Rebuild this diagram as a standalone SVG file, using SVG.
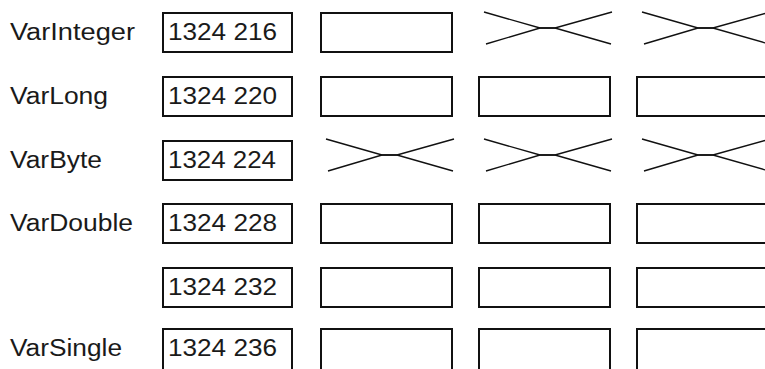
<svg xmlns="http://www.w3.org/2000/svg" xmlns:xlink="http://www.w3.org/1999/xlink" width="765" height="369" viewBox="0 0 765 369">
<style>
.box{fill:#fff;stroke:#111;stroke-width:2}
.x{fill:none;stroke:#111;stroke-width:1.4}
.lbl{font-family:"Liberation Sans",Arial,sans-serif;font-size:23.5px;fill:#1a1a1a}
</style>
<defs>
<g id="cross"><polyline class="x" points="0,0 56,16 71,16 128,0"/><polyline class="x" points="2,32 56,16 71,16 127,32"/></g>
</defs>
<rect width="765" height="369" fill="#fff"/>
<g id="row1">
<text class="lbl" x="10" y="40" textLength="125" lengthAdjust="spacingAndGlyphs">VarInteger</text>
<g id="addr1"><rect class="box" x="163" y="13" width="129" height="39"/><text class="lbl" x="168" y="40" textLength="109" lengthAdjust="spacingAndGlyphs">1324 216</text></g>
<rect class="box" x="321" y="13" width="131" height="39"/>
<use xlink:href="#cross" x="484" y="12"/>
<use xlink:href="#cross" x="642" y="12"/>
</g>
<g id="row2">
<text class="lbl" x="10" y="104" textLength="98" lengthAdjust="spacingAndGlyphs">VarLong</text>
<g id="addr2"><rect class="box" x="163" y="77" width="129" height="39"/><text class="lbl" x="168" y="104" textLength="109" lengthAdjust="spacingAndGlyphs">1324 220</text></g>
<rect class="box" x="321" y="77" width="131" height="39"/>
<rect class="box" x="479" y="77" width="131" height="39"/>
<rect class="box" x="637" y="77" width="160" height="39"/>
</g>
<g id="row3">
<text class="lbl" x="10" y="168" textLength="92" lengthAdjust="spacingAndGlyphs">VarByte</text>
<g id="addr3"><rect class="box" x="163" y="141" width="129" height="39"/><text class="lbl" x="168" y="168" textLength="108" lengthAdjust="spacingAndGlyphs">1324 224</text></g>
<use xlink:href="#cross" x="326" y="139"/>
<use xlink:href="#cross" x="484" y="139"/>
<use xlink:href="#cross" x="642" y="139"/>
</g>
<g id="row4">
<text class="lbl" x="10" y="231" textLength="123" lengthAdjust="spacingAndGlyphs">VarDouble</text>
<g id="addr4"><rect class="box" x="163" y="204" width="129" height="39"/><text class="lbl" x="168" y="231" textLength="109" lengthAdjust="spacingAndGlyphs">1324 228</text></g>
<rect class="box" x="321" y="204" width="131" height="39"/>
<rect class="box" x="479" y="204" width="131" height="39"/>
<rect class="box" x="637" y="204" width="160" height="39"/>
</g>
<g id="row5">
<g id="addr5"><rect class="box" x="163" y="268" width="129" height="39"/><text class="lbl" x="168" y="295" textLength="109" lengthAdjust="spacingAndGlyphs">1324 232</text></g>
<rect class="box" x="321" y="268" width="131" height="39"/>
<rect class="box" x="479" y="268" width="131" height="39"/>
<rect class="box" x="637" y="268" width="160" height="39"/>
</g>
<g id="row6">
<text class="lbl" x="10" y="356" textLength="112" lengthAdjust="spacingAndGlyphs">VarSingle</text>
<g id="addr6"><rect class="box" x="163" y="329" width="129" height="60"/><text class="lbl" x="168" y="356" textLength="109" lengthAdjust="spacingAndGlyphs">1324 236</text></g>
<rect class="box" x="321" y="329" width="131" height="60"/>
<rect class="box" x="479" y="329" width="131" height="60"/>
<rect class="box" x="637" y="329" width="160" height="60"/>
</g>
<g id="connectors"/>
</svg>
